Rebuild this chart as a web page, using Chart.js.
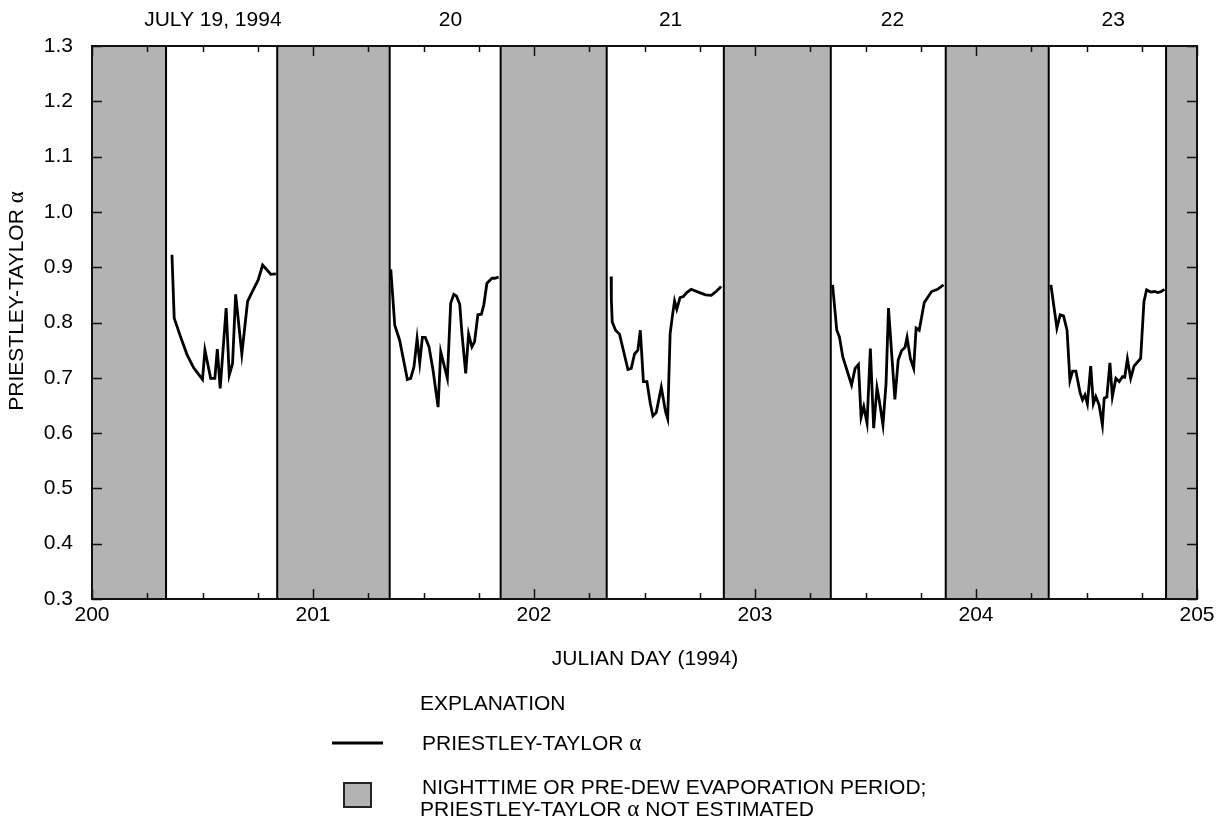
<!DOCTYPE html>
<html>
<head>
<meta charset="utf-8">
<title>Priestley-Taylor alpha, July 19-23, 1994</title>
<script src="https://cdn.jsdelivr.net/npm/chart.js@4.4.1/dist/chart.umd.min.js"></script>
<style>
  html, body { margin: 0; padding: 0; background: #fff; }
  #wrap { width: 1225px; height: 823px; position: relative; }
</style>
</head>
<body>
<div id="wrap"><canvas id="chart"></canvas></div>
<script>
// Julian day (decimal) and Priestley-Taylor alpha for each daytime period
const jd200 = [200.356, 200.362, 200.372, 200.400, 200.430, 200.460, 200.500, 200.511, 200.537, 200.556, 200.567, 200.580, 200.607, 200.621, 200.636, 200.650, 200.678, 200.704, 200.722, 200.752, 200.772, 200.794, 200.809, 200.832];
const alpha200 = [0.920, 0.920, 0.808, 0.775, 0.742, 0.718, 0.697, 0.750, 0.699, 0.699, 0.752, 0.681, 0.826, 0.705, 0.726, 0.851, 0.743, 0.838, 0.853, 0.877, 0.904, 0.894, 0.887, 0.888];

const jd201 = [201.352, 201.370, 201.392, 201.427, 201.442, 201.457, 201.471, 201.483, 201.495, 201.508, 201.525, 201.543, 201.566, 201.578, 201.608, 201.623, 201.637, 201.649, 201.664, 201.674, 201.691, 201.704, 201.719, 201.731, 201.746, 201.762, 201.773, 201.787, 201.810, 201.822, 201.840];
const alpha201 = [0.896, 0.795, 0.768, 0.697, 0.699, 0.720, 0.771, 0.727, 0.773, 0.773, 0.756, 0.714, 0.647, 0.747, 0.699, 0.835, 0.851, 0.848, 0.833, 0.780, 0.708, 0.779, 0.756, 0.765, 0.814, 0.815, 0.832, 0.871, 0.880, 0.880, 0.882];

const jd202 = [202.349, 202.350, 202.354, 202.369, 202.387, 202.425, 202.440, 202.455, 202.470, 202.481, 202.495, 202.511, 202.526, 202.538, 202.553, 202.576, 202.595, 202.605, 202.616, 202.628, 202.636, 202.646, 202.661, 202.676, 202.691, 202.711, 202.749, 202.776, 202.802, 202.824, 202.847];
const alpha202 = [0.883, 0.841, 0.801, 0.786, 0.779, 0.715, 0.717, 0.743, 0.750, 0.786, 0.693, 0.693, 0.654, 0.631, 0.637, 0.683, 0.639, 0.626, 0.780, 0.817, 0.839, 0.824, 0.845, 0.847, 0.854, 0.860, 0.854, 0.850, 0.849, 0.856, 0.865];

const jd203 = [203.351, 203.370, 203.382, 203.397, 203.437, 203.453, 203.468, 203.480, 203.492, 203.507, 203.522, 203.537, 203.552, 203.562, 203.579, 203.593, 203.604, 203.633, 203.648, 203.663, 203.679, 203.688, 203.703, 203.718, 203.729, 203.743, 203.766, 203.799, 203.826, 203.853];
const alpha203 = [0.868, 0.786, 0.774, 0.738, 0.687, 0.717, 0.724, 0.629, 0.648, 0.618, 0.753, 0.609, 0.682, 0.660, 0.615, 0.690, 0.826, 0.661, 0.732, 0.749, 0.755, 0.773, 0.735, 0.717, 0.790, 0.786, 0.836, 0.856, 0.860, 0.868];

const jd204 = [204.339, 204.366, 204.381, 204.396, 204.412, 204.425, 204.437, 204.452, 204.471, 204.482, 204.493, 204.504, 204.519, 204.531, 204.542, 204.557, 204.572, 204.580, 204.592, 204.606, 204.617, 204.633, 204.648, 204.663, 204.673, 204.685, 204.700, 204.715, 204.745, 204.760, 204.772, 204.790, 204.808, 204.823, 204.838, 204.853];
const alpha204 = [0.868, 0.790, 0.814, 0.812, 0.786, 0.695, 0.712, 0.712, 0.673, 0.660, 0.669, 0.653, 0.721, 0.653, 0.666, 0.651, 0.615, 0.663, 0.665, 0.727, 0.666, 0.699, 0.693, 0.702, 0.701, 0.734, 0.699, 0.721, 0.735, 0.838, 0.859, 0.855, 0.856, 0.854, 0.856, 0.860];

// Nighttime / pre-dew evaporation periods (alpha not estimated)
const nightStart = [200.000, 200.838, 201.849, 202.859, 203.863, 204.860];
const nightEnd   = [200.335, 201.347, 202.329, 203.343, 204.329, 205.000];

// Axis ticks and calendar-date labels across the top
const xTickValues = [200, 201, 202, 203, 204, 205];
const yTickValues = [0.3, 0.4, 0.5, 0.6, 0.7, 0.8, 0.9, 1.0, 1.1, 1.2, 1.3];
const dateLabels = ['JULY 19, 1994', '20', '21', '22', '23'];
const dateLabelDays = [200.547, 201.622, 202.618, 203.622, 204.621];

const FONT = '"Liberation Sans", Arial, Helvetica, sans-serif';
const GREEK = '"Liberation Serif", "Times New Roman", serif';
const SIZE = 21;

// One line dataset; a null point between days breaks the line
const daySeries = [[jd200, alpha200], [jd201, alpha201], [jd202, alpha202], [jd203, alpha203], [jd204, alpha204]];
const points = [];
daySeries.forEach(([days, vals], i) => {
  if (i > 0) points.push({ x: days[0] - 0.01, y: null });
  days.forEach((d, k) => points.push({ x: d, y: vals[k] }));
});

// Draw text runs in sequence: sans for Latin text, serif for the Greek alpha
function drawRuns(ctx, runs, x, y, align) {
  const widths = runs.map(r => { ctx.font = r[1]; return ctx.measureText(r[0]).width; });
  const total = widths.reduce((s, w) => s + w, 0);
  let cx = align === 'center' ? x - total / 2 : x;
  ctx.textAlign = 'left';
  runs.forEach((r, i) => { ctx.font = r[1]; ctx.fillText(r[0], cx, y); cx += widths[i]; });
}
const sans = SIZE + 'px ' + FONT;
const greek = (SIZE + 2) + 'px ' + GREEK;

const decorations = {
  id: 'decorations',
  beforeDatasetsDraw(chart) {
    const { ctx, chartArea: a, scales: { x } } = chart;
    ctx.save();
    ctx.beginPath();
    ctx.rect(a.left, a.top, a.right - a.left, a.bottom - a.top);
    ctx.clip();
    nightStart.forEach((s, i) => {
      const x0 = x.getPixelForValue(s);
      const x1 = x.getPixelForValue(nightEnd[i]);
      ctx.fillStyle = '#b3b3b3';
      ctx.fillRect(x0, a.top, x1 - x0, a.bottom - a.top);
      ctx.strokeStyle = '#000';
      ctx.lineWidth = 2;
      ctx.strokeRect(x0, a.top, x1 - x0, a.bottom - a.top);
    });
    ctx.restore();
  },
  afterDatasetsDraw(chart) {
    const { ctx, chartArea: a, scales: { x, y } } = chart;
    ctx.save();
    ctx.strokeStyle = '#111';
    ctx.lineWidth = 1.5;
    // quarter-day ticks on top and bottom, longer at whole days
    for (let q = 0; q <= 20; q++) {
      const d = 200 + q * 0.25;
      const px = Math.round(x.getPixelForValue(d)) + 0.5;
      const len = q % 4 === 0 ? 10 : 6;
      ctx.beginPath();
      ctx.moveTo(px, a.bottom); ctx.lineTo(px, a.bottom - len);
      ctx.moveTo(px, a.top); ctx.lineTo(px, a.top + len);
      ctx.stroke();
    }
    // alpha ticks on left and right
    yTickValues.forEach(v => {
      const py = Math.round(y.getPixelForValue(v)) + 0.5;
      ctx.beginPath();
      ctx.moveTo(a.left, py); ctx.lineTo(a.left + 10, py);
      ctx.moveTo(a.right, py); ctx.lineTo(a.right - 10, py);
      ctx.stroke();
    });
    // plot frame
    ctx.lineWidth = 2;
    ctx.strokeStyle = '#111';
    ctx.strokeRect(a.left, a.top, a.right - a.left, a.bottom - a.top);
    ctx.restore();
  },
  afterDraw(chart) {
    const { ctx, chartArea: a, scales: { x } } = chart;
    ctx.save();
    ctx.fillStyle = '#000';
    ctx.textBaseline = 'middle';
    ctx.font = sans;

    // calendar dates above the plot
    ctx.textAlign = 'center';
    dateLabels.forEach((t, i) => ctx.fillText(t, x.getPixelForValue(dateLabelDays[i]), 20));

    // x-axis title
    ctx.fillText('JULIAN DAY (1994)', (a.left + a.right) / 2 + 0.5, 659);

    // y-axis title
    ctx.save();
    ctx.translate(17, 301);
    ctx.rotate(-Math.PI / 2);
    drawRuns(ctx, [['PRIESTLEY-TAYLOR ', sans], ['\u03B1', greek]], 0, 0, 'center');
    ctx.restore();

    // explanation block
    ctx.font = sans;
    ctx.textAlign = 'left';
    ctx.fillText('EXPLANATION', 420, 704);

    ctx.strokeStyle = '#000';
    ctx.lineWidth = 3;
    ctx.beginPath();
    ctx.moveTo(332, 743); ctx.lineTo(383, 743);
    ctx.stroke();
    drawRuns(ctx, [['PRIESTLEY-TAYLOR ', sans], ['\u03B1', greek]], 422, 744, 'left');

    ctx.fillStyle = '#b3b3b3';
    ctx.fillRect(344, 783, 27, 24);
    ctx.lineWidth = 2;
    ctx.strokeStyle = '#222';
    ctx.strokeRect(344, 783, 27, 24);
    ctx.fillStyle = '#000';
    ctx.font = sans;
    ctx.fillText('NIGHTTIME OR PRE-DEW EVAPORATION PERIOD;', 422, 788);
    drawRuns(ctx, [['PRIESTLEY-TAYLOR ', sans], ['\u03B1', greek], [' NOT ESTIMATED', sans]], 420, 810, 'left');
    ctx.restore();
  }
};

new Chart(document.getElementById('chart'), {
  type: 'line',
  data: {
    datasets: [{
      label: 'PRIESTLEY-TAYLOR \u03B1',
      data: points,
      borderColor: '#000',
      borderWidth: 2.8,
      pointRadius: 0,
      tension: 0,
      spanGaps: false,
      fill: false
    }]
  },
  options: {
    responsive: true,
    maintainAspectRatio: false,
    animation: false,
    layout: { padding: { top: 46, right: 28, left: 0, bottom: 0 } },
    plugins: { legend: { display: false }, tooltip: { enabled: false } },
    scales: {
      x: {
        type: 'linear',
        min: 200,
        max: 205,
        afterBuildTicks(s) { s.ticks = xTickValues.map(v => ({ value: v })); },
        afterFit(s) { s.height = 224; },
        ticks: {
          autoSkip: false,
          maxRotation: 0,
          padding: 4,
          color: '#000',
          font: { family: FONT, size: SIZE },
          callback: v => String(v)
        },
        grid: { display: false, drawTicks: false },
        border: { display: false }
      },
      y: {
        type: 'linear',
        min: 0.3,
        max: 1.3,
        afterBuildTicks(s) { s.ticks = yTickValues.map(v => ({ value: v })); },
        afterFit(s) { s.width = 92; },
        ticks: {
          autoSkip: false,
          padding: 19,
          color: '#000',
          font: { family: FONT, size: SIZE },
          callback: v => Number(v).toFixed(1)
        },
        grid: { display: false, drawTicks: false },
        border: { display: false }
      }
    }
  },
  plugins: [decorations]
});
</script>
</body>
</html>
